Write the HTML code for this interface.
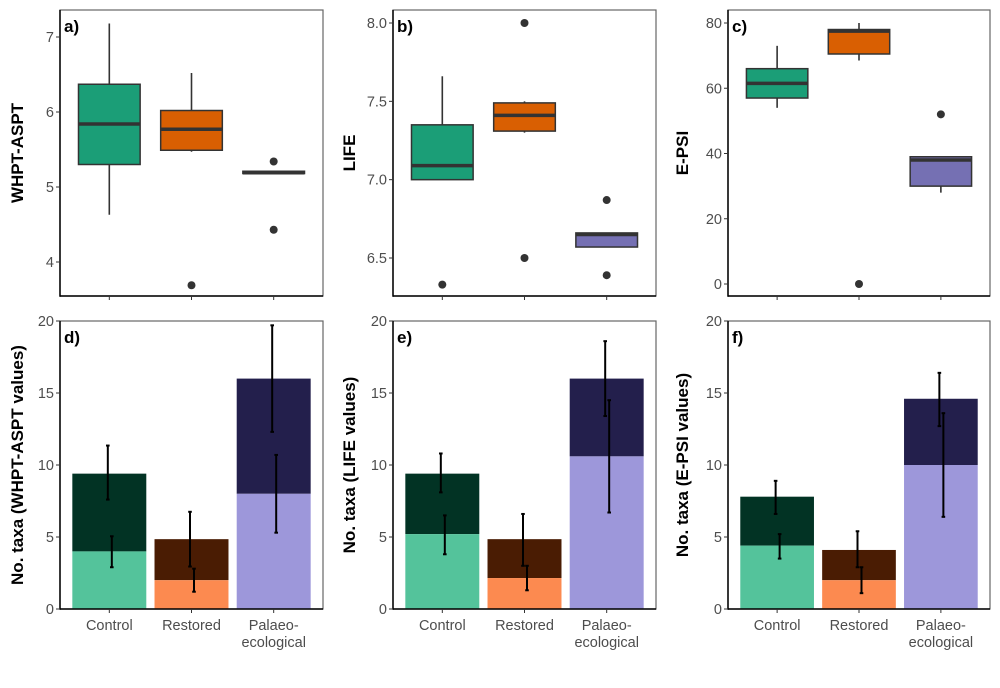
<!DOCTYPE html>
<html><head><meta charset="utf-8"><style>
html,body{margin:0;padding:0;background:#fff}
svg{display:block;font-family:"Liberation Sans",Arial,sans-serif}
</style></head><body>
<svg id="fig" width="1000" height="688" viewBox="0 0 1000 688" xmlns="http://www.w3.org/2000/svg"></svg>
<script>
const categories = ["Control", "Restored", "Palaeo-ecological"];
// box plots: [lowWhisker, q1, median, q3, highWhisker]
const boxA = [[4.63,5.30,5.84,6.37,7.18],[5.47,5.49,5.77,6.02,6.52],[5.18,5.18,5.19,5.21,5.21]];
const outA = [[],[3.69],[5.34,4.43]];
const boxB = [[7.00,7.00,7.09,7.35,7.66],[7.30,7.31,7.41,7.49,7.50],[6.57,6.57,6.65,6.66,6.66]];
const outB = [[6.33],[8.0,6.5],[6.87,6.39]];
const boxC = [[54,57,61.5,66,73],[68.5,70.5,77.5,78,80],[28,30,38,39,39]];
const outC = [[],[0],[52]];
// stacked bars: totals, lower (light) portion, error ranges
const totalD = [9.4,4.85,16]; const totalErrD = [[7.6,11.35],[2.95,6.75],[12.3,19.7]];
const lightD = [4,2,8]; const lightErrD = [[2.9,5.05],[1.2,2.8],[5.3,10.7]];
const totalE = [9.4,4.85,16]; const totalErrE = [[8.1,10.8],[3.0,6.6],[13.4,18.6]];
const lightE = [5.2,2.15,10.6]; const lightErrE = [[3.8,6.5],[1.3,3.0],[6.7,14.5]];
const totalF = [7.8,4.1,14.6]; const totalErrF = [[6.6,8.9],[2.9,5.4],[12.7,16.4]];
const lightF = [4.4,2.0,10.0]; const lightErrF = [[3.5,5.2],[1.1,2.9],[6.4,13.6]];
const ticksA = [4,5,6,7], ticksB = [6.5,7.0,7.5,8.0], ticksC = [0,20,40,60,80], ticksBar = [0,5,10,15,20];

const boxFill = ["#1b9e77","#d95f02","#7570b3"];
const lightFill = ["#54c39b","#fc8a50","#9d97da"];
const darkFill = ["#023324","#4a1c03","#231f4c"];
const NS = "http://www.w3.org/2000/svg";
const svg = document.getElementById("fig");
function el(tag, attrs, parent, text){
  const e = document.createElementNS(NS, tag);
  for (const k in attrs) e.setAttribute(k, attrs[k]);
  if (text !== undefined) e.textContent = text;
  (parent || svg).appendChild(e);
  return e;
}
function panel(o){
  const g = el("g", {});
  
  
  const y = v => o.y1 - (v - o.vmin) / (o.vmax - o.vmin) * (o.y1 - o.y0);
  const unit = (o.x1 - o.x0) / 3.2;
  const xc = i => o.x0 + unit * (i + 0.6);
  el("rect", {x:o.x0, y:o.top, width:o.x1-o.x0, height:o.bot-o.top, fill:"none", stroke:"#666", "stroke-width":1.2}, g);
  return {g, y, xc, unit};
}
function axes(o, p, ticks, fmt, title, labels){
  const g = p.g;
  el("line", {x1:o.x0, y1:o.top, x2:o.x0, y2:o.bot+0.7, stroke:"#000", "stroke-width":1.5}, g);
  el("line", {x1:o.x0, y1:o.bot, x2:o.x1, y2:o.bot, stroke:"#000", "stroke-width":1.5}, g);
  ticks.forEach(t => {
    el("line", {x1:o.x0-4, y1:p.y(t), x2:o.x0, y2:p.y(t), stroke:"#333", "stroke-width":1}, g);
    const tl = el("text", {x:o.x0-6, y:p.y(t)+5, "text-anchor":"end", "font-size":14.5, fill:"#4d4d4d"}, g, fmt(t));
    
    
  });
  for (let i=0;i<3;i++){
    el("line", {x1:p.xc(i), y1:o.bot, x2:p.xc(i), y2:o.bot+4, stroke:"#333", "stroke-width":1}, g);
    if (labels){
      const parts = categories[i] === "Palaeo-ecological" ? ["Palaeo-","ecological"] : [categories[i]];
      parts.forEach((s,k)=>{
        const tl = el("text", {x:p.xc(i), y:o.bot+21+k*17, "text-anchor":"middle", "font-size":14.5, fill:"#4d4d4d"}, g, s);
        
        
      });
    }
  }
  const cy = (o.top+o.bot)/2;
  const tt = el("text", {x:o.tx, y:cy, transform:`rotate(-90 ${o.tx} ${cy})`, "text-anchor":"middle", "font-size":17, "font-weight":"bold", fill:"#000"}, g, title);
  
  
  const pl = el("text", {x:o.x0+4, y:o.top+22, "font-size":17, "font-weight":"bold", fill:"#000"}, g, o.label);
  
  
}
function boxPanel(o, boxes, outs, ticks, fmt, title){
  const p = panel(o);
  const w = p.unit * 0.75;
  boxes.forEach((b,i)=>{
    const x = p.xc(i);
    const bg = el("g", {}, p.g);
    
    
    el("line", {x1:x, y1:p.y(b[0]), x2:x, y2:p.y(b[4]), stroke:"#333", "stroke-width":1.6}, bg);
    el("rect", {x:x-w/2, y:p.y(b[3]), width:w, height:Math.max(p.y(b[1])-p.y(b[3]),0.1), fill:boxFill[i], stroke:"#333", "stroke-width":1.5}, bg);
    el("line", {x1:x-w/2, y1:p.y(b[2]), x2:x+w/2, y2:p.y(b[2]), stroke:"#333", "stroke-width":3.5}, bg);
    outs[i].forEach(v=>{
      const c = el("circle", {cx:x, cy:p.y(v), r:4, fill:"#333"}, bg);
      
      
    });
  });
  axes(o, p, ticks, fmt, title, false);
}
function barPanel(o, total, totalErr, light, lightErr, title){
  const p = panel(o);
  const w = p.unit * 0.9;
  for (let i=0;i<3;i++){
    const x = p.xc(i);
    const bg = el("g", {}, p.g);
    
    
    el("rect", {x:x-w/2, y:p.y(total[i]), width:w, height:p.y(light[i])-p.y(total[i]), fill:darkFill[i]}, bg);
    el("rect", {x:x-w/2, y:p.y(light[i]), width:w, height:p.y(0)-p.y(light[i]), fill:lightFill[i]}, bg);
    [[totalErr[i], x-1.5],[lightErr[i], x+2.5]].forEach(([e,ex])=>{
      const eg = el("g", {}, bg);
      
      
      el("line", {x1:ex, y1:p.y(e[0]), x2:ex, y2:p.y(e[1]), stroke:"#000", "stroke-width":2}, eg);
      el("line", {x1:ex-1.8, y1:p.y(e[0]), x2:ex+1.8, y2:p.y(e[0]), stroke:"#000", "stroke-width":2}, eg);
      el("line", {x1:ex-1.8, y1:p.y(e[1]), x2:ex+1.8, y2:p.y(e[1]), stroke:"#000", "stroke-width":2}, eg);
    });
  }
  axes(o, p, ticksBar, t=>String(t), title, true);
}
const topR = {top:10, bot:296}, botR = {top:321, bot:609};
boxPanel({name:"panel-a", label:"a)", x0:60, x1:323, ...topR, y0:37, y1:262, vmin:4, vmax:7, tx:23}, boxA, outA, ticksA, t=>String(t), "WHPT-ASPT");
boxPanel({name:"panel-b", label:"b)", x0:393, x1:656, ...topR, y0:23, y1:258, vmin:6.5, vmax:8, tx:355}, boxB, outB, ticksB, t=>t.toFixed(1), "LIFE");
boxPanel({name:"panel-c", label:"c)", x0:728, x1:990, ...topR, y0:23, y1:284, vmin:0, vmax:80, tx:688}, boxC, outC, ticksC, t=>String(t), "E-PSI");
barPanel({name:"panel-d", label:"d)", x0:60, x1:323, ...botR, y0:321, y1:609, vmin:0, vmax:20, tx:23}, totalD, totalErrD, lightD, lightErrD, "No. taxa (WHPT-ASPT values)");
barPanel({name:"panel-e", label:"e)", x0:393, x1:656, ...botR, y0:321, y1:609, vmin:0, vmax:20, tx:355}, totalE, totalErrE, lightE, lightErrE, "No. taxa (LIFE values)");
barPanel({name:"panel-f", label:"f)", x0:728, x1:990, ...botR, y0:321, y1:609, vmin:0, vmax:20, tx:688}, totalF, totalErrF, lightF, lightErrF, "No. taxa (E-PSI values)");
</script>
</body></html>
